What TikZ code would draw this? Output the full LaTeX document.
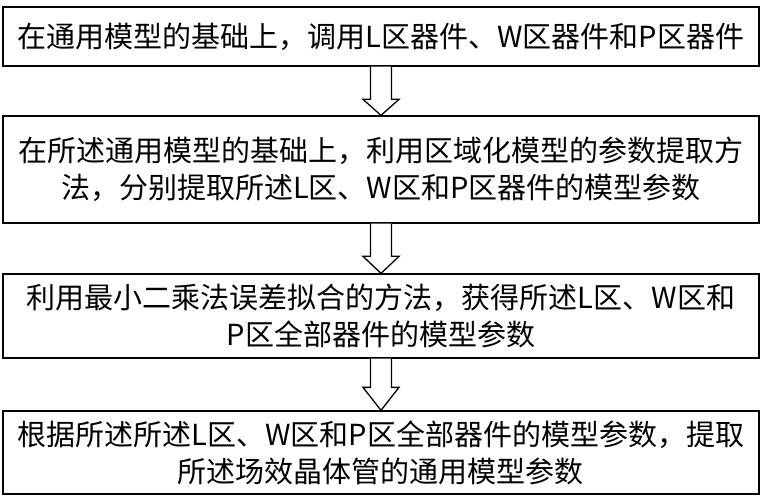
\documentclass[tikz,border=0pt]{standalone}
\usepackage{fontspec}
\newfontfamily\cjk{Noto Sans CJK SC}
\begin{document}
\begin{tikzpicture}[x=1pt,y=-1pt,
  stepbox/.style={draw,line width=1.3pt,minimum width=756pt,inner sep=0pt,
    text width=748pt,align=center,
    font=\cjk\fontsize{29pt}{37pt}\selectfont},
  hollow/.style={draw,line width=1.3pt,line join=miter,fill=white}]
\useasboundingbox (0,0) rectangle (764,500);
\node[stepbox,minimum height=59pt] (b1) at (381,36.5) {在通用模型的基础上，调用L区器件、W区器件和P区器件};
\node[stepbox,minimum height=107pt] (b2) at (381,169.5) {在所述通用模型的基础上，利用区域化模型的参数提取方\\法，分别提取所述L区、W区和P区器件的模型参数};
\node[stepbox,minimum height=84pt] (b3) at (381,316) {利用最小二乘法误差拟合的方法，获得所述L区、W区和\\P区全部器件的模型参数};
\node[stepbox,minimum height=83pt] (b4) at (381,452.5) {根据所述所述L区、W区和P区全部器件的模型参数，提取\\所述场效晶体管的通用模型参数};
\foreach \a/\b/\h in {b1/b2/16,b2/b3/17,b3/b4/23}{
  \draw[hollow] ([xshift=-10.5pt]\a.south) -- ([xshift=-10.5pt,yshift=\h pt]\b.north)
    -- ([xshift=-18pt,yshift=\h pt]\b.north) -- (\b.north)
    -- ([xshift=18pt,yshift=\h pt]\b.north) -- ([xshift=10.5pt,yshift=\h pt]\b.north)
    -- ([xshift=10.5pt]\a.south);
}
\end{tikzpicture}
\end{document}
